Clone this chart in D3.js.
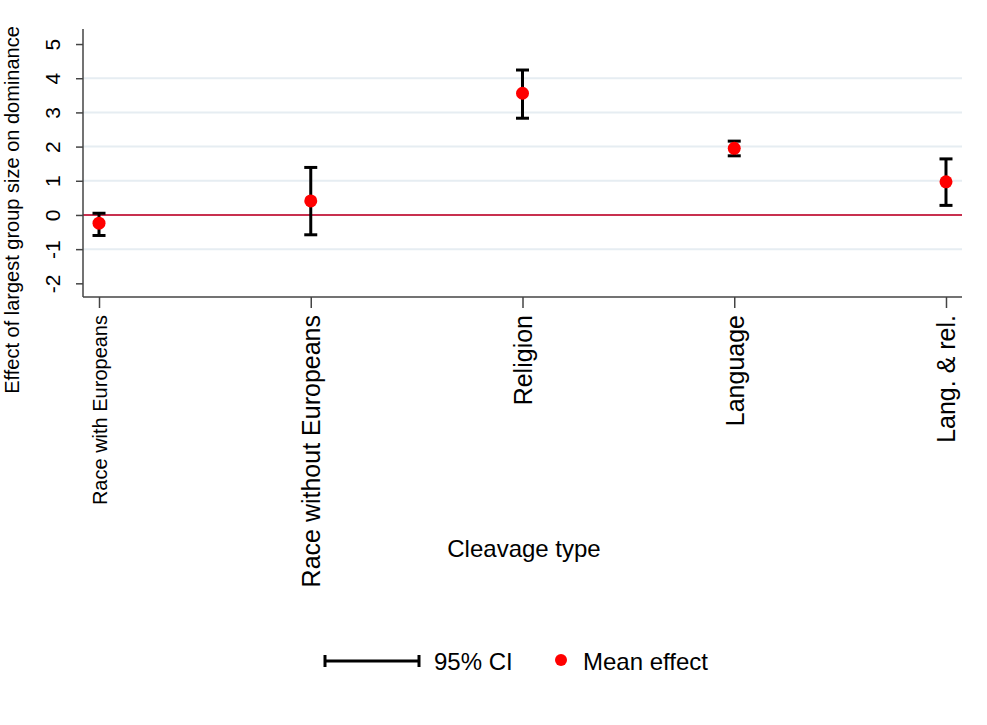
<!DOCTYPE html>
<html>
<head>
<meta charset="utf-8">
<script src="https://cdn.jsdelivr.net/npm/d3@7"></script>
<style>
  body { margin: 0; background: #fff; }
  svg { display: block; font-family: Arial, "Liberation Sans", sans-serif; }
</style>
</head>
<body>
<svg id="chart" width="987" height="725"></svg>
<script>
// ---------- 데이터 ----------
const categories = ["Race with Europeans", "Race without Europeans", "Religion", "Language", "Lang. & rel."];
const meanEffect = [-0.24, 0.41, 3.56, 1.95, 0.97];
const ciLower    = [-0.60, -0.58, 2.83, 1.73, 0.28];
const ciUpper    = [0.05, 1.39, 4.24, 2.16, 1.64];
const yTicks     = [-2, -1, 0, 1, 2, 3, 4, 5];
const gridTicks  = [-1, 1, 2, 3, 4];
const labelSizes = [20, 25, 25, 25, 25];  // 첫 라벨만 작게 나옴

const FONT = "Arial, 'Liberation Sans', sans-serif";
const svg = d3.select("#chart");

// 플롯 영역
const plotL = 83, plotR = 962, plotT = 29, plotB = 297;

const x = d3.scalePoint()
  .domain(categories)
  .range([plotL, plotR])
  .padding(0.0756);

const y = d3.scaleLinear()
  .domain([-2.4, 5.44])
  .range([plotB, plotT]);

// 그리드
svg.append("g")
  .selectAll("line")
  .data(gridTicks)
  .join("line")
  .attr("x1", plotL).attr("x2", plotR)
  .attr("y1", d => y(d)).attr("y2", d => y(d))
  .attr("stroke", "#e6edf2")
  .attr("stroke-width", 2);

// 0 기준선
svg.append("line")
  .attr("x1", plotL).attr("x2", plotR)
  .attr("y1", y(0)).attr("y2", y(0))
  .attr("stroke", "#c8304f")
  .attr("stroke-width", 2);

// y축 (Stata처럼 하이픈 마이너스)
const yAxis = svg.append("g")
  .attr("transform", `translate(${plotL},0)`)
  .call(d3.axisLeft(y).tickValues(yTicks).tickSize(7).tickPadding(0).tickFormat(d => String(d)))
  .attr("font-family", FONT);
yAxis.select(".domain").attr("stroke", "#444").attr("stroke-width", 1.5).attr("d", `M0,${plotT}V${plotB}`);
yAxis.selectAll(".tick line").attr("stroke", "#444").attr("stroke-width", 1.5);
yAxis.selectAll(".tick text")
  .attr("x", null).attr("dy", null)
  .attr("transform", "translate(-31,0) rotate(-90)")
  .attr("text-anchor", "middle")
  .attr("dominant-baseline", "central")
  .attr("font-size", 21)
  .attr("fill", "#000");

// x축
const xAxis = svg.append("g")
  .attr("transform", `translate(0,${plotB})`)
  .call(d3.axisBottom(x).tickSize(11).tickPadding(0))
  .attr("font-family", FONT);
xAxis.select(".domain").attr("stroke", "#444").attr("stroke-width", 1.5).attr("d", `M${plotL},0H${plotR}`);
xAxis.selectAll(".tick line").attr("stroke", "#444").attr("stroke-width", 1.5);
xAxis.selectAll(".tick text")
  .attr("y", null).attr("dy", null)
  .attr("transform", "translate(0,18) rotate(-90)")
  .attr("text-anchor", "end")
  .attr("dominant-baseline", "central")
  .attr("font-size", (d, i) => labelSizes[i])
  .attr("fill", "#000");

// 축 제목
svg.append("text")
  .attr("transform", "translate(12,210) rotate(-90)")
  .attr("text-anchor", "middle")
  .attr("dominant-baseline", "central")
  .attr("font-size", 20)
  .text("Effect of largest group size on dominance");

svg.append("text")
  .attr("x", 524).attr("y", 548)
  .attr("text-anchor", "middle")
  .attr("dominant-baseline", "central")
  .attr("font-size", 24)
  .text("Cleavage type");

// 신뢰구간 (CI)
const capW = 6.5;
const ci = svg.append("g").attr("stroke", "#000").attr("stroke-width", 3);
categories.forEach((c, i) => {
  const cx = x(c);
  ci.append("line").attr("x1", cx).attr("x2", cx).attr("y1", y(ciLower[i])).attr("y2", y(ciUpper[i]));
  ci.append("line").attr("x1", cx - capW).attr("x2", cx + capW).attr("y1", y(ciLower[i])).attr("y2", y(ciLower[i]));
  ci.append("line").attr("x1", cx - capW).attr("x2", cx + capW).attr("y1", y(ciUpper[i])).attr("y2", y(ciUpper[i]));
});

// 평균 점
svg.append("g")
  .selectAll("circle")
  .data(categories)
  .join("circle")
  .attr("cx", d => x(d))
  .attr("cy", (d, i) => y(meanEffect[i]))
  .attr("r", 6.5)
  .attr("fill", "#ff0000");

// 범례
const lg = svg.append("g").attr("stroke", "#000").attr("stroke-width", 3);
lg.append("line").attr("x1", 325).attr("x2", 419).attr("y1", 661).attr("y2", 661);
lg.append("line").attr("x1", 325).attr("x2", 325).attr("y1", 655).attr("y2", 667);
lg.append("line").attr("x1", 419).attr("x2", 419).attr("y1", 655).attr("y2", 667);
svg.append("text").attr("x", 434).attr("y", 661).attr("dominant-baseline", "central")
  .attr("font-size", 24).text("95% CI");
svg.append("circle").attr("cx", 561).attr("cy", 660).attr("r", 6).attr("fill", "#ff0000");
svg.append("text").attr("x", 583).attr("y", 661).attr("dominant-baseline", "central")
  .attr("font-size", 24).text("Mean effect");
</script>
</body>
</html>
